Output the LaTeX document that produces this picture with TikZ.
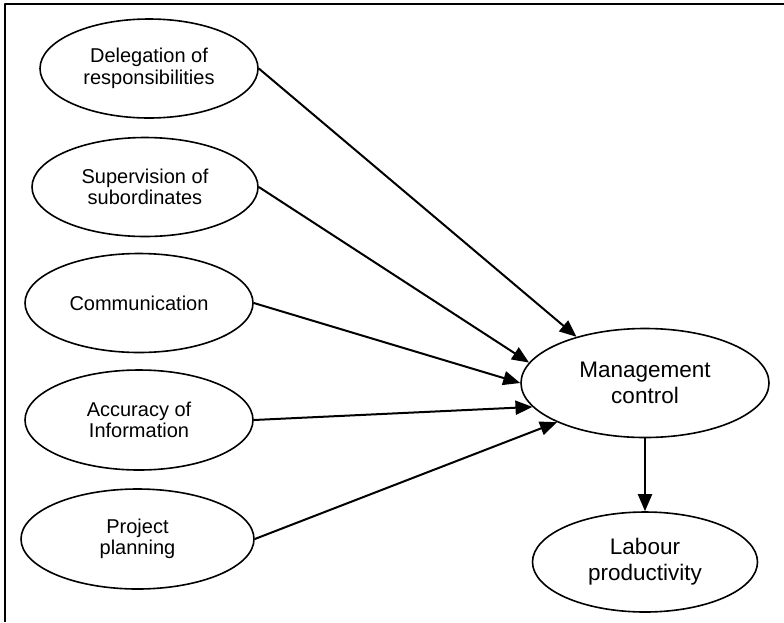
\documentclass[tikz,border=0pt]{standalone}
\usepackage{fontspec}
\setmainfont{Liberation Sans}
\usetikzlibrary{shapes.geometric,arrows.meta}
\begin{document}
\begin{tikzpicture}[x=1pt,y=-1pt,>={Triangle[length=17pt,width=14pt]},line join=round,
	oval/.style={draw,ellipse,line width=1.6pt,inner sep=0pt,align=center,font=\fontsize{20}{21.5}\selectfont},
	bigoval/.style={oval,font=\fontsize{22.5}{26}\selectfont},
	link/.style={->,line width=2pt}]
	\useasboundingbox (0,0) rectangle (784,622);
	\path
	(5,622)coordinate(FB)
	(5,4)coordinate(FT)
	(784,4)coordinate(FR)
	;
	\draw[line width=1.2pt] (FB)--(FT)--(FR);
	\node[oval,minimum width=218pt,minimum height=99pt] (deleg) at (149,68.5) {Delegation of\\responsibilities};
	\node[oval,minimum width=226pt,minimum height=99pt] (super) at (145,187) {Supervision of\\subordinates};
	\node[oval,minimum width=228pt,minimum height=99pt] (comm) at (139,303) {Communication};
	\node[oval,minimum width=228pt,minimum height=100pt] (acc) at (139,420) {Accuracy of\\Information};
	\node[oval,minimum width=233pt,minimum height=100pt] (proj) at (137.5,539) {Project\\planning};
	\node[bigoval,minimum width=248pt,minimum height=109pt] (mgmt) at (645,383) {Management\\control};
	\node[bigoval,minimum width=225pt,minimum height=100pt] (labour) at (645,562) {Labour\\productivity};
	\foreach \s/\a in {deleg/146,super/170,comm/180,acc/192,proj/204} \draw[link] (\s.east)--(mgmt.\a);
	\draw[link] (mgmt.south)--(labour.north);
\end{tikzpicture}
\end{document}
